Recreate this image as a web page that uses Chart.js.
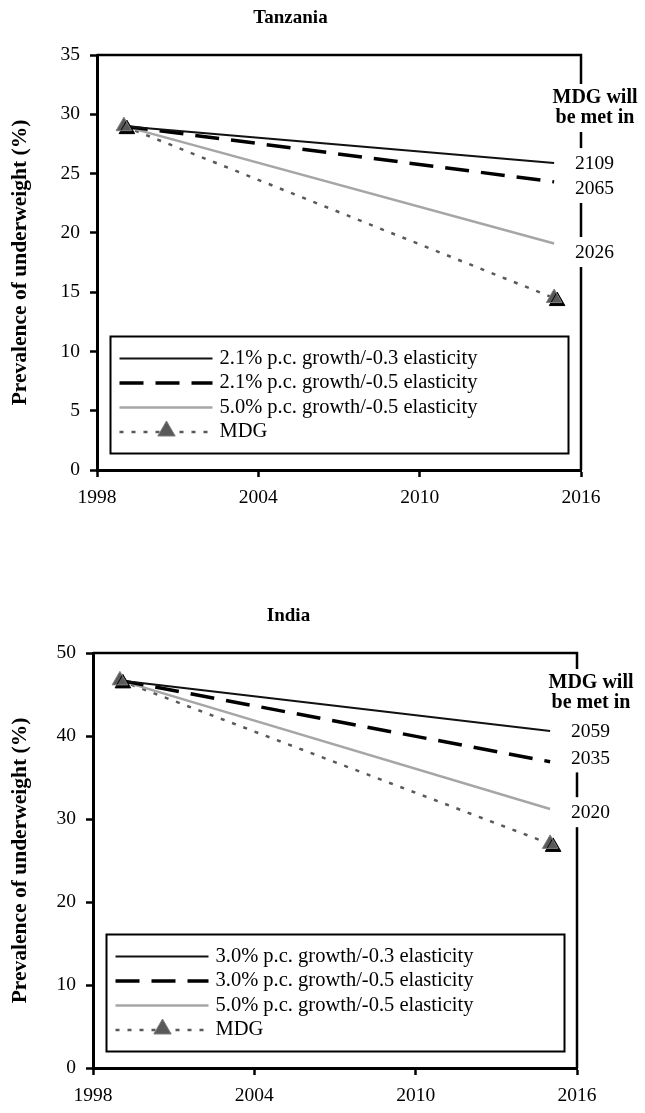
<!DOCTYPE html>
<html>
<head>
<meta charset="utf-8">
<script src="https://cdn.jsdelivr.net/npm/chart.js@4"></script>
<style>
  body { margin: 0; background: #fff; }
  .box { position: absolute; left: 0; width: 645px; height: 515px; }
</style>
</head>
<body>
<div class="box" style="top:0"><canvas id="tanzaniaChart"></canvas></div>
<div class="box" style="top:598px"><canvas id="indiaChart"></canvas></div>
<script>
// start year and 2015 target year
const years = [1999, 2015];
const yearTicks = [1998, 2004, 2010, 2016];

// Tanzania
const tzSeries = ['2.1% p.c. growth/-0.3 elasticity', '2.1% p.c. growth/-0.5 elasticity', '5.0% p.c. growth/-0.5 elasticity', 'MDG'];
const tzLow = [29.0, 25.9];
const tzMid = [29.0, 24.3];
const tzHigh = [29.0, 19.1];
const tzMdg = [29.0, 14.5];
const tzMetIn = ['2109', '2065', '2026'];

// India
const inSeries = ['3.0% p.c. growth/-0.3 elasticity', '3.0% p.c. growth/-0.5 elasticity', '5.0% p.c. growth/-0.5 elasticity', 'MDG'];
const inLow = [46.7, 40.6];
const inMid = [46.7, 36.9];
const inHigh = [46.7, 31.2];
const inMdg = [46.7, 27.0];
const inMetIn = ['2059', '2035', '2020'];

Chart.defaults.font.family = "'Liberation Serif', 'Times New Roman', serif";
Chart.defaults.color = '#000';

const FONT = "20.5px 'Liberation Serif', serif";
const YEARFONT = "19.5px 'Liberation Serif', serif";
const BOLD = "bold 20px 'Liberation Serif', serif";

function pts(vals) {
    return years.map((x, i) => ({x: x, y: vals[i]}));
}

function triangle(ctx, x, y, r, fill, stroke) {
    ctx.beginPath();
    ctx.moveTo(x, y - r);
    ctx.lineTo(x + r * 0.87, y + r * 0.5);
    ctx.lineTo(x - r * 0.87, y + r * 0.5);
    ctx.closePath();
    ctx.fillStyle = fill;
    ctx.fill();
    ctx.strokeStyle = stroke;
    ctx.lineWidth = 1;
    ctx.stroke();
}

// black offset shadow under the MDG triangles
const shadowPlugin = {
    id: 'shadow',
    beforeDatasetDraw(chart, args) {
        if (chart.data.datasets[args.index].shadow) {
            chart.ctx.save();
            chart.ctx.shadowColor = '#000';
            chart.ctx.shadowOffsetX = 3;
            chart.ctx.shadowOffsetY = 3;
        }
    },
    afterDatasetDraw(chart, args) {
        if (chart.data.datasets[args.index].shadow) chart.ctx.restore();
    }
};

// frame, legend box and "MDG will be met in" notes
const framePlugin = {
    id: 'frame',
    afterDatasetsDraw(chart, args, opts) {
        const ctx = chart.ctx;
        const a = chart.chartArea;
        const yScale = chart.scales.y;
        ctx.save();

        ctx.strokeStyle = '#000';
        ctx.lineWidth = 2.5;
        ctx.beginPath();
        ctx.moveTo(a.left, a.top);
        ctx.lineTo(a.right, a.top);
        ctx.lineTo(a.right, a.bottom);
        ctx.stroke();

        // header
        ctx.font = BOLD;
        ctx.textAlign = 'center';
        ctx.textBaseline = 'middle';
        const hx = a.right + 14;
        const hy = a.top + opts.headerTop;
        const hw = Math.max(ctx.measureText('MDG will').width, ctx.measureText('be met in').width);
        ctx.fillStyle = '#fff';
        ctx.fillRect(hx - hw / 2 - 3, hy - 14, hw + 6, 20 + 28);
        ctx.fillStyle = '#000';
        ctx.fillText('MDG will', hx, hy);
        ctx.fillText('be met in', hx, hy + 20);

        // year labels
        ctx.font = YEARFONT;
        ctx.textAlign = 'left';
        opts.metIn.forEach((t, i) => {
            const ty = yScale.getPixelForValue(opts.metAt[i]);
            const tx = a.right - 6;
            const w = ctx.measureText(t).width;
            ctx.fillStyle = '#fff';
            ctx.fillRect(tx - 2, ty - 16, w + 4, 30);
            ctx.fillStyle = '#000';
            ctx.fillText(t, tx, ty);
        });

        // legend
        const bl = a.left + 13.5, br = a.right - 12.5;
        const bb = a.bottom - 16.5, bt = bb - 117;
        ctx.fillStyle = '#fff';
        ctx.fillRect(bl, bt, br - bl, bb - bt);
        ctx.lineWidth = 2;
        ctx.strokeStyle = '#000';
        ctx.strokeRect(bl, bt, br - bl, bb - bt);
        const sets = chart.data.datasets.filter(d => !d.markers);
        sets.forEach((d, i) => {
            const ry = bt + 22 + i * 24.5;
            ctx.save();
            ctx.strokeStyle = d.borderColor;
            ctx.lineWidth = d.borderWidth;
            ctx.setLineDash(d.borderDash || []);
            ctx.beginPath();
            ctx.moveTo(bl + 9, ry);
            ctx.lineTo(bl + 102, ry);
            ctx.stroke();
            ctx.restore();
            if (d.legendMarker) {
                triangle(ctx, bl + 56, ry - 1, 10, '#595959', '#7f7f7f');
            }
            ctx.fillStyle = '#000';
            ctx.font = FONT;
            ctx.textBaseline = 'middle';
            ctx.fillText(d.label, bl + 109, ry);
        });
        ctx.restore();
    }
};

function makeChart(id, title, names, low, mid, high, mdg, yMax, yStep, leftWidth, metIn, metAt, headerTop) {
    const ctx = document.getElementById(id).getContext('2d');
    return new Chart(ctx, {
        type: 'line',
        data: {
            datasets: [
                {
                    label: names[0],
                    data: pts(low),
                    borderColor: '#111',
                    borderWidth: 2,
                    pointRadius: 0,
                    order: 2
                },
                {
                    label: names[1],
                    data: pts(mid),
                    borderColor: '#000',
                    borderWidth: 3.5,
                    borderDash: [24, 12],
                    pointRadius: 0,
                    order: 3
                },
                {
                    label: names[2],
                    data: pts(high),
                    borderColor: '#a6a6a6',
                    borderWidth: 2.5,
                    pointRadius: 0,
                    order: 4
                },
                {
                    label: names[3],
                    data: pts(mdg),
                    borderColor: '#595959',
                    borderWidth: 2.5,
                    borderDash: [4, 8],
                    pointRadius: 0,
                    legendMarker: true,
                    order: 5
                },
                {
                    label: 'MDG markers',
                    data: pts(mdg),
                    showLine: false,
                    pointStyle: 'triangle',
                    pointRadius: 9,
                    pointBackgroundColor: '#595959',
                    pointBorderColor: '#7f7f7f',
                    pointBorderWidth: 1,
                    markers: true,
                    shadow: true,
                    order: 0
                }
            ]
        },
        options: {
            responsive: true,
            maintainAspectRatio: false,
            animation: false,
            layout: { padding: { left: 0, right: 645 - leftWidth - 484, top: 0, bottom: 0 } },
            plugins: {
                legend: { display: false },
                tooltip: { enabled: false },
                title: {
                    display: true,
                    text: title,
                    font: { size: 19, weight: 'bold' },
                    color: '#000',
                    padding: { top: 7, bottom: 25.2 }
                },
                frame: { metIn: metIn, metAt: metAt, headerTop: headerTop }
            },
            scales: {
                x: {
                    type: 'linear',
                    min: 1998,
                    max: 2016,
                    afterBuildTicks: s => { s.ticks = yearTicks.map(v => ({ value: v })); },
                    afterFit: s => { s.height = 45; },
                    ticks: {
                        callback: v => String(v),
                        font: { size: 19.5 },
                        color: '#000',
                        padding: 9,
                        maxRotation: 0
                    },
                    grid: { drawOnChartArea: false, tickLength: 7, tickWidth: 2.5, tickColor: '#000' },
                    border: { display: true, color: '#000', width: 3 }
                },
                y: {
                    min: 0,
                    max: yMax,
                    afterFit: s => { s.width = leftWidth; },
                    ticks: {
                        stepSize: yStep,
                        font: { size: 19.5 },
                        color: '#000',
                        padding: 10
                    },
                    grid: { drawOnChartArea: false, tickLength: 7, tickWidth: 2.5, tickColor: '#000' },
                    border: { display: true, color: '#000', width: 3 },
                    title: {
                        display: true,
                        text: 'Prevalence of underweight (%)',
                        font: { size: 21.5, weight: 'bold' },
                        color: '#000',
                        padding: { top: 8, bottom: 0 }
                    }
                }
            }
        },
        plugins: [shadowPlugin, framePlugin]
    });
}

document.addEventListener('DOMContentLoaded', function() {
    makeChart('tanzaniaChart', 'Tanzania', tzSeries, tzLow, tzMid, tzHigh, tzMdg, 35, 5, 97,
        tzMetIn, [25.8, 23.7, 18.3], 43);
    makeChart('indiaChart', 'India', inSeries, inLow, inMid, inHigh, inMdg, 50, 10, 93,
        inMetIn, [40.5, 37.3, 30.7], 30);
});
</script>
</body>
</html>
